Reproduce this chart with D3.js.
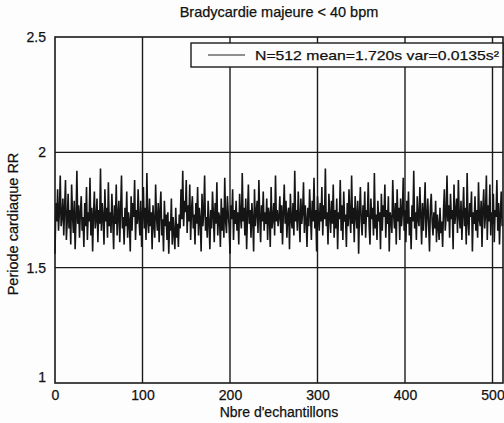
<!DOCTYPE html>
<html>
<head>
<meta charset="utf-8">
<script src="https://cdn.jsdelivr.net/npm/d3@7"></script>
<style>
  body { margin: 0; background: #fdfdfd; }
  text { font-family: "Liberation Sans", Arial, sans-serif; fill: #111; stroke: #111; stroke-width: 0.25px; }
</style>
</head>
<body>
<div id="chart"></div>
<script>
// RR intervals (512 samples)
var rr = [
  1.56,1.78,1.70,1.84,1.66,1.74,1.90,1.68,1.72,1.80,1.64,1.76,1.88,1.62,1.70,1.82,
  1.67,1.75,1.60,1.86,1.73,1.65,1.79,1.58,1.71,1.92,1.69,1.77,1.63,1.74,1.81,1.66,
  1.72,1.59,1.78,1.68,1.85,1.62,1.74,1.70,1.89,1.64,1.76,1.57,1.73,1.83,1.67,1.71,
  1.80,1.61,1.75,1.69,1.93,1.66,1.78,1.72,1.60,1.84,1.70,1.76,1.63,1.87,1.68,1.74,
  1.65,1.82,1.71,1.58,1.77,1.69,1.86,1.64,1.73,1.79,1.61,1.75,1.90,1.67,1.72,1.60,
  1.76,1.68,1.83,1.63,1.74,1.70,1.57,1.81,1.66,1.78,1.72,1.88,1.62,1.75,1.69,1.84,
  1.71,1.64,1.79,1.59,1.73,1.85,1.67,1.76,1.62,1.91,1.70,1.65,1.80,1.68,1.74,1.58,
  1.77,1.69,1.63,1.86,1.72,1.66,1.78,1.61,1.75,1.83,1.64,1.71,1.57,1.79,1.68,1.73,
  1.62,1.74,1.56,1.70,1.66,1.80,1.60,1.72,1.65,1.58,1.76,1.63,1.69,1.59,1.73,1.67,
  1.84,1.71,1.92,1.68,1.79,1.74,1.88,1.65,1.77,1.70,1.86,1.62,1.75,1.81,1.67,1.73,
  1.60,1.78,1.69,1.85,1.64,1.76,1.71,1.57,1.82,1.68,1.74,1.90,1.66,1.72,1.63,1.79,
  1.70,1.58,1.75,1.67,1.83,1.73,1.61,1.78,1.69,1.87,1.64,1.74,1.72,1.59,1.80,1.66,
  1.76,1.63,1.89,1.70,1.65,1.81,1.73,1.68,1.56,1.77,1.71,1.84,1.62,1.75,1.69,1.79,
  1.66,1.74,1.60,1.82,1.72,1.67,1.91,1.70,1.76,1.64,1.80,1.58,1.73,1.86,1.69,1.75,
  1.63,1.78,1.71,1.57,1.84,1.68,1.74,1.79,1.65,1.88,1.72,1.61,1.77,1.70,1.83,1.66,
  1.74,1.69,1.80,1.62,1.76,1.73,1.59,1.85,1.67,1.71,1.78,1.64,1.90,1.70,1.75,1.68,
  1.72,1.81,1.65,1.77,1.60,1.74,1.86,1.69,1.79,1.63,1.73,1.76,1.58,1.82,1.71,1.67,
  1.78,1.64,1.92,1.70,1.75,1.66,1.83,1.72,1.61,1.80,1.69,1.74,1.87,1.65,1.77,1.71,
  1.59,1.76,1.68,1.84,1.73,1.62,1.79,1.70,1.89,1.67,1.75,1.57,1.81,1.72,1.66,1.78,
  1.70,1.85,1.64,1.77,1.71,1.93,1.68,1.74,1.60,1.82,1.73,1.65,1.79,1.69,1.86,1.63,
  1.75,1.67,1.80,1.58,1.74,1.71,1.88,1.66,1.77,1.62,1.83,1.70,1.73,1.59,1.78,1.68,
  1.84,1.72,1.65,1.90,1.69,1.76,1.61,1.81,1.73,1.67,1.79,1.56,1.74,1.85,1.70,1.64,
  1.77,1.69,1.83,1.63,1.75,1.72,1.87,1.68,1.60,1.80,1.71,1.76,1.64,1.91,1.67,1.73,
  1.62,1.79,1.70,1.74,1.58,1.82,1.66,1.77,1.72,1.86,1.63,1.75,1.69,1.81,1.57,1.74,
  1.71,1.65,1.88,1.73,1.67,1.78,1.60,1.84,1.70,1.76,1.62,1.80,1.68,1.74,1.89,1.66,
  1.75,1.61,1.79,1.69,1.83,1.64,1.72,1.58,1.77,1.70,1.92,1.67,1.74,1.62,1.81,1.71,
  1.68,1.85,1.73,1.60,1.78,1.66,1.75,1.87,1.63,1.72,1.80,1.69,1.57,1.76,1.82,1.70,
  1.64,1.74,1.67,1.79,1.61,1.73,1.68,1.62,1.76,1.65,1.70,1.59,1.75,1.84,1.66,1.72,
  1.90,1.70,1.77,1.63,1.82,1.71,1.75,1.58,1.86,1.69,1.74,1.80,1.65,1.88,1.72,1.67,
  1.79,1.62,1.73,1.85,1.68,1.76,1.60,1.91,1.70,1.64,1.78,1.72,1.83,1.57,1.74,1.69,
  1.81,1.66,1.75,1.63,1.87,1.71,1.68,1.79,1.59,1.76,1.84,1.67,1.73,1.90,1.62,1.77,
  1.70,1.86,1.64,1.74,1.69,1.82,1.61,1.75,1.72,1.88,1.66,1.78,1.60,1.73,1.83,1.68
];
var xTicks = [0, 100, 200, 300, 400, 500];
var yTicks = [1, 1.5, 2, 2.5];
var titleText = "Bradycardie majeure < 40 bpm";
var xLabel = "Nbre d'echantillons";
var yLabel = "Periode cardiaque RR";
var legendText = "N=512 mean=1.720s var=0.0135s\u00b2";

var margin = {top: 37, right: 1, bottom: 40, left: 55};
var width = 504 - margin.left - margin.right;
var height = 423 - margin.top - margin.bottom;

var svg = d3.select("#chart").append("svg")
    .attr("width", width + margin.left + margin.right)
    .attr("height", height + margin.top + margin.bottom)
  .append("g")
    .attr("transform", "translate(" + margin.left + "," + margin.top + ")");

var x = d3.scaleLinear().domain([0, 512]).range([0, width]);
var y = d3.scaleLinear().domain([1, 2.5]).range([height, 0]);

// grid lines
svg.append("g")
  .selectAll("line")
  .data(xTicks.slice(1))
  .enter().append("line")
    .attr("x1", d => x(d)).attr("x2", d => x(d))
    .attr("y1", 0).attr("y2", height)
    .attr("stroke", "#1a1a1a").attr("stroke-width", 1.4);
svg.append("g")
  .selectAll("line")
  .data(yTicks.slice(1, -1))
  .enter().append("line")
    .attr("x1", 0).attr("x2", width)
    .attr("y1", d => y(d)).attr("y2", d => y(d))
    .attr("stroke", "#1a1a1a").attr("stroke-width", 1.4);

// the signal
var line = d3.line()
    .x((d, i) => x(i))
    .y(d => y(d));
svg.append("path")
    .datum(rr)
    .attr("fill", "none")
    .attr("stroke", "#151515")
    .attr("stroke-width", 1.6)
    .attr("d", line);

// box
svg.append("rect")
    .attr("width", width).attr("height", height)
    .attr("fill", "none").attr("stroke", "#1a1a1a").attr("stroke-width", 1.6);

// axes
var xAxis = svg.append("g")
    .attr("transform", "translate(0," + height + ")")
    .call(d3.axisBottom(x).tickValues(xTicks).tickSize(0).tickPadding(7));
xAxis.select(".domain").remove();
xAxis.selectAll("text").attr("font-size", 14).attr("fill", "#111");

var yAxis = svg.append("g")
    .call(d3.axisLeft(y).tickValues(yTicks).tickSize(0).tickPadding(9).tickFormat(d3.format("")));
yAxis.select(".domain").remove();
yAxis.selectAll("text").attr("font-size", 14).attr("fill", "#111")
    .attr("dy", d => d === 1 ? "-0.1em" : "0.32em");

// title and axis labels
svg.append("text")
    .attr("x", width / 2).attr("y", -20)
    .attr("text-anchor", "middle").attr("font-size", 14.5)
    .text(titleText);
svg.append("text")
    .attr("x", width / 2).attr("y", height + 34)
    .attr("text-anchor", "middle").attr("font-size", 14)
    .text(xLabel);
svg.append("text")
    .attr("transform", "rotate(-90)")
    .attr("x", -(224 - margin.top)).attr("y", -37)
    .attr("text-anchor", "middle").attr("font-size", 14.5)
    .text(yLabel);

// legend
var lg = svg.append("g").attr("transform", "translate(136,6)");
lg.append("rect")
    .attr("width", 312).attr("height", 24)
    .attr("fill", "#fdfdfd").attr("stroke", "#1a1a1a").attr("stroke-width", 1.4);
lg.append("line")
    .attr("x1", 17).attr("x2", 54).attr("y1", 12).attr("y2", 12)
    .attr("stroke", "#222").attr("stroke-width", 1.2);
lg.append("text")
    .attr("x", 64).attr("y", 16.5)
    .attr("font-size", 13.5)
    .attr("textLength", 244)
    .attr("lengthAdjust", "spacingAndGlyphs")
    .text(legendText);
</script>
</body>
</html>
